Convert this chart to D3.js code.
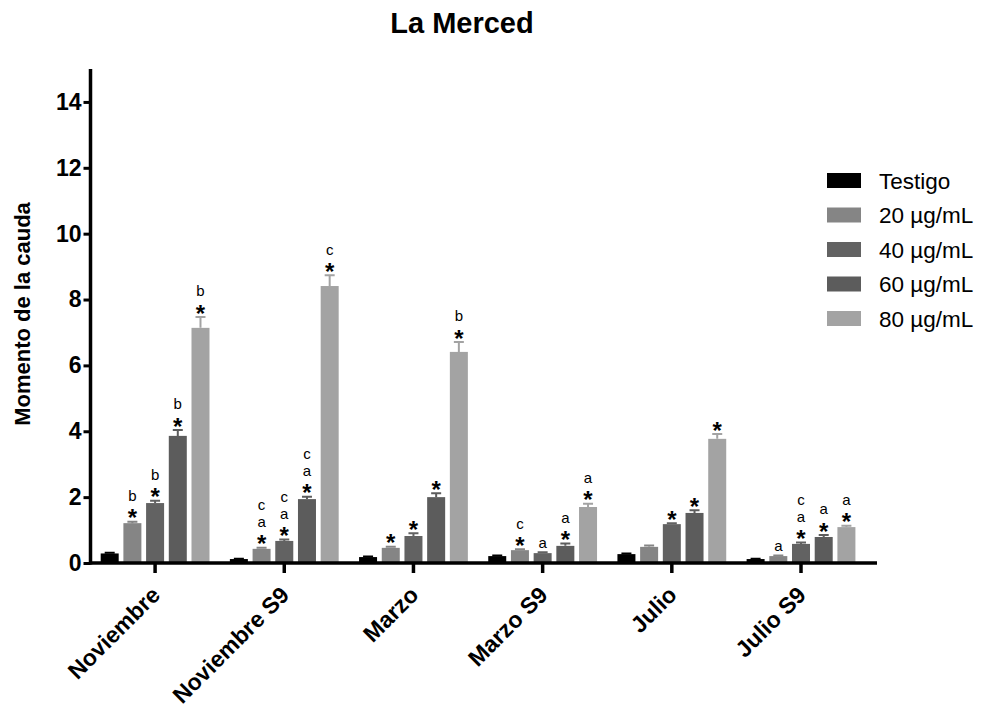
<!DOCTYPE html>
<html>
<head>
<meta charset="utf-8">
<script src="https://cdn.jsdelivr.net/npm/d3@7"></script>
<style>
  html, body { margin: 0; padding: 0; background: #fff; }
  svg { display: block; font-family: Arial, "Liberation Sans", Helvetica, sans-serif; }
</style>
</head>
<body>
<svg id="chart" width="982" height="707"></svg>
<script>
// Sampling periods along the x axis
const groups = ["Noviembre", "Noviembre S9", "Marzo", "Marzo S9", "Julio", "Julio S9"];
// Treatments (one bar each per period)
const series = ["Testigo", "20 µg/mL", "40 µg/mL", "60 µg/mL", "80 µg/mL"];

// Mean tail moment per treatment, in period order
const testigo = [0.29, 0.12, 0.18, 0.21, 0.27, 0.12];
const dose20  = [1.21, 0.43, 0.46, 0.39, 0.49, 0.21];
const dose40  = [1.82, 0.67, 0.82, 0.30, 1.18, 0.58];
const dose60  = [3.86, 1.94, 2.00, 0.52, 1.52, 0.79];
const dose80  = [7.14, 8.41, 6.41, 1.70, 3.77, 1.09];

// Standard error per treatment
const errTestigo = [0.02, 0.01, 0.02, 0.02, 0.02, 0.01];
const err20      = [0.04, 0.03, 0.03, 0.03, 0.04, 0.02];
const err40      = [0.07, 0.04, 0.08, 0.03, 0.03, 0.04];
const err60      = [0.18, 0.07, 0.12, 0.07, 0.08, 0.06];
const err80      = [0.33, 0.33, 0.30, 0.10, 0.15, 0.04];

// Significance marks stacked above each bar (top to bottom)
const marksTestigo = [[], [], [], [], [], []];
const marks20 = [["b", "*"], ["c", "a", "*"], ["*"], ["c", "*"], [], ["a"]];
const marks40 = [["b", "*"], ["c", "a", "*"], ["*"], ["a"], ["*"], ["c", "a", "*"]];
const marks60 = [["b", "*"], ["c", "a", "*"], ["*"], ["a", "*"], ["*"], ["a", "*"]];
const marks80 = [["b", "*"], ["c", "*"], ["b", "*"], ["a", "*"], ["*"], ["a", "*"]];

const yTicks = [0, 2, 4, 6, 8, 10, 12, 14];

const values = [testigo, dose20, dose40, dose60, dose80];
const errors = [errTestigo, err20, err40, err60, err80];
const marks  = [marksTestigo, marks20, marks40, marks60, marks80];
const colors = ["#000000", "#858585", "#626262", "#5c5c5c", "#a3a3a3"];

const data = [];
groups.forEach((g, gi) => {
  series.forEach((s, si) => {
    data.push({ group: g, series: s, si, value: values[si][gi], err: errors[si][gi], marks: marks[si][gi] });
  });
});

const svg = d3.select("#chart");
const left = 90.5, right = 865.6, axisEnd = 877;
const y = d3.scaleLinear().domain([0, 15]).range([563, 69]);
const x0 = d3.scaleBand().domain(groups).range([left, right]).padding(0);
const x1 = d3.scaleBand().domain(series).range([-54.4, 54.4]).paddingInner(0.207).paddingOuter(0);
const color = d3.scaleOrdinal().domain(series).range(colors);
const cx = d => x0(d.group) + x0.bandwidth() / 2;

// Title
svg.append("text")
  .attr("x", 462).attr("y", 33)
  .attr("text-anchor", "middle")
  .attr("font-size", 29).attr("font-weight", "bold")
  .text("La Merced");

// Y axis title
svg.append("text")
  .attr("transform", "translate(30,314) rotate(-90)")
  .attr("text-anchor", "middle")
  .attr("font-size", 22).attr("font-weight", "bold")
  .text("Momento de la cauda");

// Bars
const bars = svg.append("g");
bars.selectAll("rect").data(data).join("rect")
  .attr("x", d => cx(d) + x1(d.series))
  .attr("width", x1.bandwidth())
  .attr("y", d => y(d.value))
  .attr("height", d => y(0) - y(d.value))
  .attr("fill", d => color(d.series));

// Error bars (upper half only)
const eb = svg.append("g");
eb.selectAll("path").data(data).join("path")
  .attr("d", d => {
    const xc = cx(d) + x1(d.series) + x1.bandwidth() / 2;
    const yt = y(d.value), ye = y(d.value + d.err);
    return `M${xc},${yt}V${ye}M${xc - 5},${ye}H${xc + 5}`;
  })
  .attr("fill", "none")
  .attr("stroke", d => color(d.series))
  .attr("stroke-width", 2);

// Significance marks, stacked upward from the error-bar cap.
// Each line sits just above the line box of the one below it.
const starSize = 24, letterSize = 15;
const ascent = 0.905, descent = 0.212;
const mk = svg.append("g");
data.filter(d => d.marks.length).forEach(d => {
  const xc = cx(d) + x1(d.series) + x1.bandwidth() / 2;
  const cap = y(d.value + d.err);
  let boxTop = null;
  d.marks.slice().reverse().forEach(m => {
    const star = m === "*";
    const fs = star ? starSize : letterSize;
    let baseline;
    if (boxTop === null) baseline = star ? cap + 4.6 : cap - 4;
    else baseline = boxTop - descent * fs - 0.3;
    boxTop = baseline - ascent * fs;
    mk.append("text")
      .attr("x", xc).attr("y", baseline)
      .attr("text-anchor", "middle")
      .attr("font-size", fs)
      .attr("font-weight", star ? "bold" : "normal")
      .text(m);
  });
});

// Y axis
const yAxis = svg.append("g")
  .attr("transform", `translate(${left},0)`)
  .call(d3.axisLeft(y).tickValues(yTicks).tickSize(7).tickPadding(2).tickSizeOuter(0));
yAxis.select(".domain").attr("stroke", "#000").attr("stroke-width", 3.5)
  .attr("d", `M0,${y(15)}V${y(0) + 1.5}`);
yAxis.selectAll(".tick line").attr("stroke", "#000").attr("stroke-width", 3);
yAxis.selectAll(".tick text")
  .attr("font-size", 23).attr("font-weight", "bold").attr("fill", "#000")
  .attr("font-family", "Arial, 'Liberation Sans', sans-serif");

// X axis
const xAxis = svg.append("g")
  .attr("transform", `translate(0,${y(0)})`)
  .call(d3.axisBottom(x0).tickSize(10).tickSizeOuter(0));
xAxis.select(".domain").attr("stroke", "#000").attr("stroke-width", 3.5)
  .attr("d", `M${left - 1.5},0H${axisEnd}`);
xAxis.selectAll(".tick line").attr("stroke", "#000").attr("stroke-width", 3.5);
xAxis.selectAll(".tick text")
  .attr("font-size", 23).attr("font-weight", "bold").attr("fill", "#000")
  .attr("font-family", "Arial, 'Liberation Sans', sans-serif")
  .attr("text-anchor", "end")
  .attr("transform", "translate(-5,22) rotate(-45)")
  .attr("x", 0).attr("y", 0).attr("dy", "0.7em");

// Legend
const legend = svg.append("g").attr("transform", "translate(827,173)");
series.forEach((s, i) => {
  const row = legend.append("g").attr("transform", `translate(0,${i * 34.5})`);
  row.append("rect").attr("width", 34).attr("height", 15).attr("fill", color(s));
  row.append("text").attr("x", 52).attr("y", 15.5)
    .attr("font-size", 22.5).attr("fill", "#000").text(s);
});
</script>
</body>
</html>
